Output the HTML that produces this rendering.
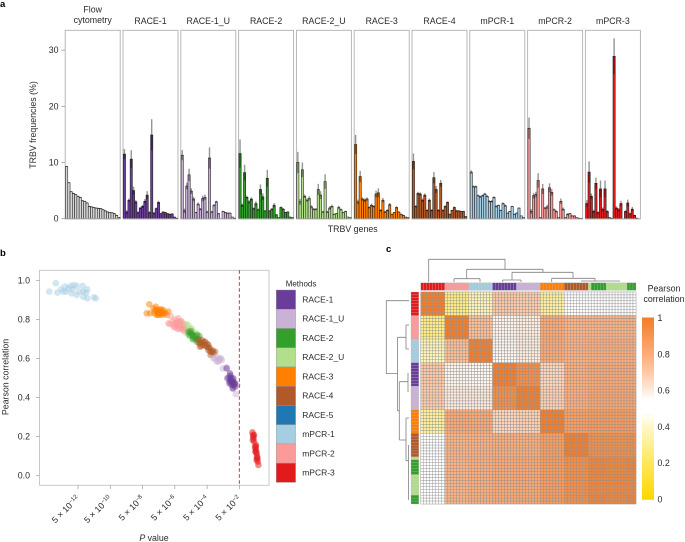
<!DOCTYPE html>
<html lang="en">
<head>
<meta charset="utf-8">
<title>TRBV frequencies figure</title>
<style>
html,body{margin:0;padding:0;background:#fff;}
svg{display:block;font-family:"Liberation Sans",sans-serif;fill:#2a2a2a;}
text{font-size:8.8px;}
.letter{font-size:9.5px;font-weight:bold;fill:#000;}
</style>
</head>
<body>
<svg id="fig" width="685" height="542" viewBox="0 0 685 542" xmlns="http://www.w3.org/2000/svg">
  <text class="letter" x="0" y="7">a</text>
  <text class="letter" x="0" y="256">b</text>
  <text class="letter" x="386" y="252">c</text>
  <g id="panelA"></g>
  <text transform="translate(36,125) rotate(-90)" text-anchor="middle">TRBV frequencies (%)</text>
  <text x="352.7" y="232" text-anchor="middle">TRBV genes</text>
  <g id="panelB"></g>
  <text transform="translate(8.5,377) rotate(-90)" text-anchor="middle">Pearson correlation</text>
  <text x="154" y="541" text-anchor="middle"><tspan font-style="italic">P</tspan> value</text>
  <g id="legendB"></g>
  <g id="panelC"></g>
  <path d="M428.7 282V259.3H505V269.3M466.7 269.3H543M466.7 269.3V278.7M454 278.7H480M454 278.7V282M480 278.7V282M543 269.3V272.3M512 272.3H573M512 272.3V280M502.7 280H521M502.7 280V282M521 280V282M573 272.3V278.3M551.7 278.3H595M551.7 278.3V282M595 278.3V281M581 281H620" fill="none" stroke="#808080" stroke-width="0.8"/>
  <path d="M409 300.7H386.3V373.5H397.5M397.5 337.3V410.7M397.5 337.3H406M406 325V349M406 325H409M406 349H409M397.5 410.7H399.3M399.3 381.7V440M399.3 381.7H408M408 373V392M399.3 440H406M406 418V460.7M406 418H409M406 460.7H408.5M408.5 445V500" fill="none" stroke="#808080" stroke-width="0.8"/>
  <g id="scaleC"></g>
  <text x="664" y="291.5" text-anchor="middle">Pearson</text>
  <text x="664" y="302" text-anchor="middle">correlation</text>
</svg>
<script>
const svgNS = "http://www.w3.org/2000/svg";

/* ---------- Panel a data ---------- */
const barPanels = ["Flow cytometry","RACE-1","RACE-1_U","RACE-2","RACE-2_U","RACE-3","RACE-4","mPCR-1","mPCR-2","mPCR-3"];
const barColors = ["#d6d6d6","#6a3d9a","#cab2d6","#33a02c","#b2df8a","#ff7f00","#b15928","#a6cee3","#fb9a99","#e31a1c"];
const freqFlow = [9.3,6.4,4.8,4.5,4.3,4.0,3.8,3.2,3.1,2.8,2.2,2.1,2.0,1.9,1.85,1.8,1.6,1.4,1.2,1.1,1.05,0.9,0.6,0.2];
const errFlow = [0.1,0.1,0.1,0.1,0.1,0.1,0.1,0.1,0.1,0.1,0.1,0.1,0.1,0.1,0.1,0.1,0.1,0.1,0.1,0.1,0.1,0.1,0.1,0.1];
const freqRace1 = [11.5,1.2,3.3,10.6,5.0,3.0,1.1,1.9,2.2,3.1,4.2,1.1,14.9,1.0,1.8,2.9,0.9,1.2,1.1,0.9,0.8,0.85,0.3,0.1];
const errRace1 = [0.9,0.3,0.3,1.6,0.7,0.3,0.2,0.2,0.3,0.4,0.7,0.2,2.8,0.2,0.2,0.3,0.1,0.1,0.1,0.1,0.1,0.1,0,0];
const freqRace1U = [11.3,1.4,5.8,7.8,4.9,3.5,1.1,2.6,1.7,3.6,3.8,1.2,10.8,1.2,2.4,3.0,0.9,0,1.3,1.1,1.0,1.0,0.3,0.1];
const errRace1U = [0.9,0.4,0.6,1.1,0.5,0.4,0.1,0.3,0.2,0.5,0.5,0.2,1.9,0.2,0.2,0.2,0.1,0,0.1,0.1,0.1,0.1,0,0];
const freqRace2 = [11.6,2.4,8.2,3.8,3.0,3.5,1.8,2.7,1.6,5.2,3.9,1.4,7.2,1.4,1.7,2.4,0.7,0.2,2.0,1.7,1.1,1.2,0.3,0.2];
const errRace2 = [2.5,0.3,1.4,0.3,0.3,0.3,0.2,0.4,0.2,0.9,0.6,0.1,1.5,0.1,0.2,0.4,0.1,0,0.2,0.2,0.1,0.1,0,0];
const freqRace2U = [10.0,3.0,8.7,4.0,3.3,3.6,2.1,1.7,1.7,5.2,4.2,1.2,6.6,1.2,1.9,2.2,0.8,0.9,2.0,1.6,1.1,1.3,0.3,0.2];
const errRace2U = [1.9,0.5,1.3,0.3,0.3,0.4,0.3,0.2,0.2,1.0,0.7,0.2,1.3,0.2,0.3,0.3,0.1,0.1,0.3,0.2,0.1,0.1,0,0];
const freqRace3 = [13.2,3.0,7.5,3.5,3.3,3.5,2.0,2.4,2.2,4.4,4.6,1.5,3.3,1.2,1.5,2.5,0.8,1.1,2.0,1.2,0.8,0.6,0.3,0.2];
const errRace3 = [1.7,0.4,1.0,0.3,0.3,0.3,0.2,0.3,0.2,0.6,0.8,0.2,0.4,0.2,0.2,0.3,0.1,0.1,0.2,0.1,0.1,0.1,0,0];
const freqRace4 = [10.2,2.2,4.5,4.4,3.3,4.2,1.5,3.3,1.5,7.3,5.2,1.5,6.3,1.5,2.2,2.9,0.8,1.5,2.0,1.4,1.4,1.3,1.3,0.4];
const errRace4 = [1.4,0.2,0.3,0.3,0.3,0.3,0.2,0.3,0.2,1.0,0.6,0.2,0.6,0.2,0.2,0.2,0.1,0.1,0.2,0.2,0.1,0.1,0.1,0];
const freqMpcr1 = [8.3,5.7,5.7,4.1,3.9,4.1,4.4,4.0,3.1,3.1,3.8,2.2,2.4,1.5,2.7,2.3,1.0,1.3,2.2,0.8,1.0,1.9,0.5,0.2];
const errMpcr1 = [0.3,0.2,0.2,0.2,0.2,0.2,0.2,0.2,0.2,0.2,0.2,0.2,0.1,0.1,0.2,0.2,0.1,0.1,0.1,0.1,0.1,0.1,0,0];
const freqMpcr2 = [16.1,1.3,4.1,4.3,6.8,0.2,5.3,1.9,2.1,5.5,4.7,1.6,1.3,0.2,3.1,1.7,0.2,0.8,0.9,0.5,0.5,0.2,0.1,0.05];
const errMpcr2 = [1.9,0.4,0.5,0.5,1.3,0,0.9,0.2,0.4,0.8,0.6,0.2,0.2,0,0.5,0.3,0,0.2,0.1,0.1,0.1,0,0,0];
const freqMpcr3 = [2.7,8.3,4.0,1.3,6.3,1.1,5.3,1.7,5.3,1.3,0.2,0.1,28.9,1.9,1.6,2.7,0,1.3,2.8,0.9,1.7,0.6,0.1,0];
const errMpcr3 = [0.6,1.9,0.5,0.3,1.0,0.2,1.5,0.3,1.5,0.2,0,0,3.2,0.3,0.3,0.5,0,0.2,0.6,0.2,0.4,0.1,0,0];
const barValues = [freqFlow,freqRace1,freqRace1U,freqRace2,freqRace2U,freqRace3,freqRace4,freqMpcr1,freqMpcr2,freqMpcr3];
const barErrors = [errFlow,errRace1,errRace1U,errRace2,errRace2U,errRace3,errRace4,errMpcr1,errMpcr2,errMpcr3];
const freqTicks = [0,10,20,30];

/* ---------- Panel b data: exponent of P/5 and Pearson r ---------- */
const methodNames = ["RACE-1","RACE-1_U","RACE-2","RACE-2_U","RACE-3","RACE-4","RACE-5","mPCR-1","mPCR-2","mPCR-3"];
const methodColors = ["#6a3d9a","#cab2d6","#33a02c","#b2df8a","#ff7f00","#b15928","#1f78b4","#a6cee3","#fb9a99","#e31a1c"];
const pMpcr1 = [-13.78,-13.38,-13.28,-13.05,-12.91,-12.81,-12.74,-12.6,-12.45,-12.39,-12.33,-12.25,-12.08,-12.08,-11.92,-11.71,-11.67,-11.67,-11.5,-11.42,-11.42,-11.01,-10.9];
const rMpcr1 = [.942,.985,.937,.954,.942,.968,.942,.959,.971,.933,.954,.976,.971,.925,.942,.971,.942,.916,.937,.954,.908,.913,.908];
const pRace3 = [-7.74,-7.58,-7.54,-7.33,-7.27,-7.17,-7.12,-7.02,-6.96,-6.86,-6.77,-6.71,-6.6,-6.5,-6.4,-7.08,-6.92,-7.23,-7,-6.9,-6.85,-7.15,-6.7,-6.8,-7.05];
const rRace3 = [.831,.877,.831,.857,.831,.865,.823,.848,.823,.852,.823,.848,.834,.823,.84,.84,.834,.845,.835,.845,.83,.85,.83,.84,.825];
const pMpcr2 = [-6.4,-6.26,-6.3,-6.09,-5.99,-5.93,-5.78,-5.72,-5.57,-5.51,-5.43,-5.37,-5.88,-5.68,-5.31,-6.15,-6.05,-5.85,-5.8,-5.62,-5.6,-5.47,-5.75,-5.95,-5.5];
const rMpcr2 = [.78,.817,.776,.771,.80,.759,.806,.754,.788,.746,.771,.737,.783,.771,.754,.79,.76,.775,.75,.79,.755,.76,.79,.78,.775];
const pRace2U = [-5.31,-5.16,-5.06,-4.95,-4.85,-4.64,-5.26,-5.06,-4.75,-4.54];
const rRace2U = [.776,.771,.754,.754,.737,.729,.729,.715,.703,.695];
const pRace2 = [-5.16,-4.95,-4.85,-4.64,-4.48,-4.89,-4.64,-5.06,-5,-4.9,-4.8,-4.7,-4.55,-5.1];
const rRace2 = [.737,.725,.708,.72,.715,.698,.686,.732,.74,.72,.715,.7,.7,.72];
const pRace4 = [-4.54,-4.44,-4.33,-4.23,-4.13,-4.02,-3.92,-3.82,-3.71,-3.61,-3.92,-3.78,-3.51,-4.44,-4.3,-4.2,-4.1,-4,-3.9,-3.8,-4.35,-3.65,-4.5];
const rRace4 = [.695,.677,.695,.669,.686,.66,.669,.652,.635,.626,.643,.618,.635,.66,.68,.685,.665,.675,.655,.635,.665,.64,.68];
const pRace1U = [-3.61,-3.4,-3.3,-3.2,-3.09,-3.4,-3.03,-2.79,-2.58,-2.37,-2.37,-2.21,-2.12,-2.68,-3.5,-3.25,-3.15];
const rRace1U = [.601,.609,.584,.601,.592,.584,.549,.555,.515,.481,.447,.418,.464,.507,.6,.59,.6];
const pRace1 = [-2.79,-2.74,-2.58,-2.48,-2.58,-2.37,-2.48,-2.27,-2.37,-2.41,-2.27,-2.54,-2.62,-2.5,-2.45,-2.4,-2.35,-2.55,-2.6,-2.3];
const rRace1 = [.549,.498,.524,.498,.481,.481,.464,.456,.498,.447,.473,.51,.473,.485,.48,.47,.465,.49,.5,.47];
const pMpcr3 = [-1.19,-1.13,-1.09,-1.17,-1.03,-.97,-.93,-.88,-.82,-.93,-.97,-1.09,-.86,-1.01,-1,-.98,-.95,-.9,-1.12,-1.15,-.9];
const rMpcr3 = [.222,.2,.174,.183,.148,.131,.114,.089,.055,.08,.157,.208,.072,.123,.14,.15,.12,.1,.19,.21,.09];
const scatterOrder = ["mPCR-1","RACE-3","mPCR-2","RACE-2_U","RACE-2","RACE-4","RACE-1_U","RACE-1","mPCR-3"];
const scatterP = [pMpcr1,pRace3,pMpcr2,pRace2U,pRace2,pRace4,pRace1U,pRace1,pMpcr3];
const scatterR = [rMpcr1,rRace3,rMpcr2,rRace2U,rRace2,rRace4,rRace1U,rRace1,rMpcr3];
const pTicks = [-12,-10,-8,-6,-4,-2];
const pThreshold = -2;
const rTicks = [0,0.2,0.4,0.6,0.8,1];

/* ---------- Panel c data ---------- */
const heatGroups = ["mPCR-3","mPCR-2","mPCR-1","RACE-1","RACE-1_U","RACE-3","RACE-4","RACE-2","RACE-2_U"];
const groupCorrelation = [
  [1.00,0.27,0.37,0.70,0.69,0.32,0.50,0.50,0.50],
  [0.27,1.00,0.74,0.58,0.60,0.82,0.78,0.78,0.78],
  [0.37,0.74,1.00,0.57,0.60,0.82,0.79,0.80,0.80],
  [0.70,0.58,0.57,1.00,0.93,0.66,0.80,0.82,0.82],
  [0.69,0.60,0.60,0.93,1.00,0.68,0.80,0.83,0.83],
  [0.32,0.82,0.82,0.66,0.68,1.00,0.87,0.88,0.88],
  [0.50,0.78,0.79,0.80,0.80,0.87,1.00,0.93,0.93],
  [0.50,0.78,0.80,0.82,0.83,0.88,0.93,0.98,0.97],
  [0.50,0.78,0.80,0.82,0.83,0.88,0.93,0.97,0.97]
];
const sampleGroups = [0,0,0,0,0,0,0,0,1,1,1,1,1,1,1,1,2,2,2,2,2,2,2,2,3,3,3,3,3,3,3,3,4,4,4,4,4,4,4,4,5,5,5,5,5,5,5,5,6,6,6,6,6,6,6,6,8,7,7,7,7,7,8,8,8,8,8,8,8,7,7,7];
const scaleTickValues = [0,0.2,0.4,0.6,0.8,1];
const scaleTickLabels = ["0","0.2","0.4","0.6","0.8","1"];

/* ---------- helpers ---------- */
function mk(tag, attrs, parent){
  const e = document.createElementNS(svgNS, tag);
  for (const k in attrs) e.setAttribute(k, attrs[k]);
  parent.appendChild(e);
  return e;
}
const yFreq = v => 218.7 - v * 5.62;
const xP = e => 78 + (e + 12) * 16.135;
const yR = r => 475.7 - r * 195.4;
const heatLeft = 420.8, heatTop = 292, cellW = 215.2 / sampleGroups.length, cellH = 212 / sampleGroups.length;
const xCell = i => heatLeft + i * cellW;
const yCell = i => heatTop + i * cellH;
const yScale = v => 499.5 - v * 181.5;
const stopPos = [0,0.2,0.4,0.48,0.55,0.6,0.7,0.8,1];
const stopCol = [[255,215,0],[255,231,90],[255,248,200],[255,255,255],[255,255,255],[255,236,222],[255,200,165],[255,172,120],[243,125,40]];
function colorOf(v){
  let i = 0;
  while (i < stopPos.length - 2 && v > stopPos[i + 1]) i++;
  const t = Math.max(0, Math.min(1, (v - stopPos[i]) / (stopPos[i + 1] - stopPos[i])));
  const c = stopCol[i].map((a, k) => Math.round(a + (stopCol[i + 1][k] - a) * t));
  return "rgb(" + c.join(",") + ")";
}

/* ---------- Panel a ---------- */
const panelA = document.getElementById("panelA");
const panelW = 55, panelStep = 57.8, panelX0 = 65.2;
const barStep = panelW / 24.2;
barPanels.forEach((name, p) => {
  const x0 = panelX0 + p * panelStep;
  const g = mk("g", {}, panelA);
  
  
  const frame = mk("rect", {x:x0, y:30.3, width:panelW, height:188.4, fill:"#fff", stroke:"#b0b0b0", "stroke-width":0.9}, g);
  
  
  barValues[p].forEach((v, i) => {
    const bx = x0 + 0.3 + i * barStep;
    const bar = mk("rect", {x:bx, y:yFreq(v), width:barStep, height:yFreq(0) - yFreq(v), fill:barColors[p], stroke:"#1c1c1c", "stroke-width":0.55}, g);
    
    
    const er = barErrors[p][i];
    const eb = mk("rect", {x:bx + barStep / 2 - 0.7, y:yFreq(v + er), width:1.4, height:yFreq(v - er) - yFreq(v + er), fill:"#000", "fill-opacity":0.42}, g);
    
    
  });
  const base = mk("line", {x1:x0, x2:x0 + panelW, y1:218.9, y2:218.9, stroke:"#a8a8a8", "stroke-width":1}, g);
  
  
  const cx = x0 + panelW / 2;
  if (name === "Flow cytometry") {
    const t1 = mk("text", {x:cx, y:12.3, "text-anchor":"middle"}, g);
    t1.textContent = "Flow";
    
    
    const t2 = mk("text", {x:cx, y:23, "text-anchor":"middle"}, g);
    t2.textContent = "cytometry";
    
    
  } else {
    const t = mk("text", {x:cx, y:24, "text-anchor":"middle"}, g);
    t.textContent = name;
    
    
  }
});
freqTicks.forEach(v => {
  const tick = mk("line", {x1:61.5, x2:65, y1:yFreq(v), y2:yFreq(v), stroke:"#888", "stroke-width":0.7}, panelA);
  
  
  const lab = mk("text", {x:58.5, y:yFreq(v) + 3, "text-anchor":"end"}, panelA);
  lab.textContent = v;
  
  
});

/* ---------- Panel b ---------- */
const panelB = document.getElementById("panelB");
const box = mk("rect", {x:39.5, y:270.3, width:229.5, height:215, fill:"#fff", stroke:"#c4c4c4", "stroke-width":0.9}, panelB);


rTicks.forEach(v => {
  const tick = mk("line", {x1:36, x2:39.5, y1:yR(v), y2:yR(v), stroke:"#999", "stroke-width":0.7}, panelB);
  
  
  const lab = mk("text", {x:30, y:yR(v) + 3, "text-anchor":"end"}, panelB);
  lab.textContent = v.toFixed(1);
  
  
});
pTicks.forEach(e => {
  const tick = mk("line", {x1:xP(e), x2:xP(e), y1:485.3, y2:489, stroke:"#999", "stroke-width":0.7}, panelB);
  
  
  const lab = mk("text", {transform:"translate(" + (xP(e) + 2) + ",499) rotate(-45)", "text-anchor":"end"}, panelB);
  
  
  const base = mk("tspan", {}, lab);
  base.textContent = "5 × 10";
  const sup = mk("tspan", {dy:-3, style:"font-size:6px"}, lab);
  sup.textContent = "−" + Math.abs(e);
});
scatterOrder.forEach((name, s) => {
  const color = methodColors[methodNames.indexOf(name)];
  const g = mk("g", {}, panelB);
  
  
  scatterP[s].forEach((p, i) => {
    const pt = mk("circle", {cx:xP(p), cy:yR(scatterR[s][i]), r:3.3, fill:color, "fill-opacity":0.5}, g);
    
    
  });
});
const thresh = mk("line", {x1:xP(pThreshold), x2:xP(pThreshold), y1:270.3, y2:485.3, stroke:"#e0263a", "stroke-width":1, "stroke-dasharray":"3.4 2.6"}, panelB);



/* ---------- Legend ---------- */
const legendB = document.getElementById("legendB");
const legTitle = mk("text", {x:285.7, y:286.5, style:"font-size:8px"}, legendB);
legTitle.textContent = "Methods";


methodNames.forEach((name, i) => {
  const y = 290 + i * 19.24;
  const sw = mk("rect", {x:276.2, y:y, width:19.4, height:19.24, fill:methodColors[i], stroke:"#999", "stroke-width":0.4}, legendB);
  
  
  const t = mk("text", {x:302.2, y:y + 12.5, style:"font-size:8.5px"}, legendB);
  t.textContent = name;
  
  
});

/* ---------- Panel c ---------- */
const panelC = document.getElementById("panelC");
const frameC = mk("rect", {x:heatLeft, y:heatTop, width:215.2, height:212, fill:"#fff", stroke:"#ddd", "stroke-width":0.8}, panelC);


sampleGroups.forEach((gi, i) => {
  const groupColor = methodColors[methodNames.indexOf(heatGroups[gi])];
  const colAnn = mk("rect", {x:xCell(i), y:282.8, width:cellW, height:7.6, fill:groupColor, stroke:"#b5b5b5", "stroke-width":0.25}, panelC);
  
  
  const rowAnn = mk("rect", {x:411, y:yCell(i), width:7.8, height:cellH, fill:groupColor, stroke:"#b5b5b5", "stroke-width":0.25}, panelC);
  
  
  sampleGroups.forEach((gj, j) => {
    const cell = mk("rect", {x:xCell(j), y:yCell(i), width:cellW, height:cellH, fill:colorOf(groupCorrelation[gi][gj]), stroke:"#909090", "stroke-width":0.4}, panelC);
    
    
  });
});

/* ---------- Colour scale ---------- */
const scaleC = document.getElementById("scaleC");
for (let k = 0; k < 182; k++) {
  const v = k / 181.5;
  const seg = mk("rect", {x:642, y:yScale(v) - 1, width:12, height:1.3, fill:colorOf(v)}, scaleC);
  
  
}
scaleTickValues.forEach((v, i) => {
  const lab = mk("text", {x:657.5, y:yScale(v) + 3}, scaleC);
  lab.textContent = scaleTickLabels[i];
  
  
});
</script>
</body>
</html>
